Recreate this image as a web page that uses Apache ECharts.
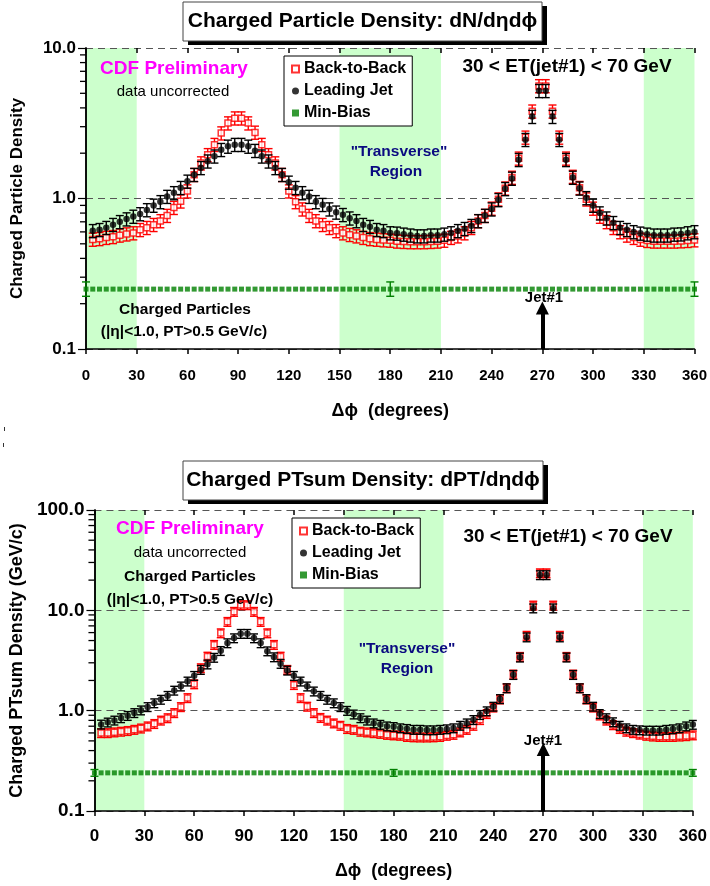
<!DOCTYPE html>
<html>
<head>
<meta charset="utf-8">
<script src="https://cdn.jsdelivr.net/npm/echarts@6/dist/echarts.min.js"></script>
<style>
html, body { margin: 0; padding: 0; background: #fff; }
#chart { width: 710px; height: 886px; }
</style>
</head>
<body>
<div id="chart"></div>
<script>
// delta phi bin centres (degrees)
const dphi = [4,8,12,16,20,24,28,32,36,40,44,48,52,56,60,64,68,72,76,80,84,88,92,96,100,104,108,112,116,120,
  124,128,132,136,140,144,148,152,156,160,164,168,172,176,180,184,188,192,196,200,204,208,212,216,220,224,228,232,236,240,
  244,248,252,256,260,264,268,272,276,280,284,288,292,296,300,304,308,312,316,320,324,328,332,336,340,344,348,352,356,360]
const mbPhi = [0,4,8,12,16,20,24,28,32,36,40,44,48,52,56,60,64,68,72,76,80,84,88,92,96,100,104,108,112,116,120,
  124,128,132,136,140,144,148,152,156,160,164,168,172,176,180,184,188,192,196,200,204,208,212,216,220,224,228,232,236,240,
  244,248,252,256,260,264,268,272,276,280,284,288,292,296,300,304,308,312,316,320,324,328,332,336,340,344,348,352,356,360]
const xTicks = [0,30,60,90,120,150,180,210,240,270,300,330,360]

// top: charged particle density
const topLead = [0.61,0.62,0.64,0.67,0.70,0.73,0.76,0.79,0.84,0.90,
  0.95,1.03,1.09,1.18,1.30,1.44,1.60,1.77,1.91,2.11,
  2.22,2.28,2.28,2.22,2.08,1.91,1.77,1.60,1.44,1.28,
  1.18,1.09,1.03,0.95,0.91,0.85,0.81,0.78,0.74,0.71,
  0.67,0.65,0.62,0.61,0.59,0.587,0.578,0.57,0.563,0.563,
  0.57,0.57,0.578,0.59,0.61,0.63,0.66,0.71,0.77,0.85,
  0.98,1.16,1.36,1.81,2.46,3.50,5.20,5.20,3.50,2.46,
  1.81,1.38,1.17,1.01,0.90,0.80,0.74,0.69,0.64,0.62,
  0.60,0.587,0.578,0.57,0.57,0.57,0.578,0.58,0.59,0.60]
const topB2B = [0.535,0.54,0.55,0.557,0.57,0.58,0.59,0.62,0.64,0.67,
  0.71,0.77,0.87,0.96,1.12,1.44,1.72,1.95,2.28,2.72,
  3.17,3.42,3.42,3.17,2.75,2.28,1.95,1.72,1.44,1.12,
  0.95,0.85,0.77,0.71,0.67,0.64,0.61,0.59,0.575,0.563,
  0.55,0.54,0.535,0.53,0.527,0.52,0.517,0.515,0.515,0.515,
  0.517,0.52,0.527,0.55,0.563,0.59,0.64,0.71,0.77,0.86,
  0.99,1.17,1.38,1.85,2.55,3.80,5.60,5.60,3.80,2.55,
  1.85,1.40,1.18,0.99,0.86,0.76,0.70,0.64,0.60,0.57,
  0.55,0.535,0.525,0.52,0.52,0.52,0.52,0.522,0.525,0.53]
const topMB = [0.25,0.25,0.25,0.25,0.25,0.25,0.25,0.25,0.25,0.25,0.25,0.25,0.25,0.25,0.25,0.25,0.25,0.25,0.25,0.25,
  0.25,0.25,0.25,0.25,0.25,0.25,0.25,0.25,0.25,0.25,0.25,0.25,0.25,0.25,0.25,0.25,0.25,0.25,0.25,0.25,
  0.25,0.25,0.25,0.25,0.25,0.25,0.25,0.25,0.25,0.25,0.25,0.25,0.25,0.25,0.25,0.25,0.25,0.25,0.25,0.25,
  0.25,0.25,0.25,0.25,0.25,0.25,0.25,0.25,0.25,0.25,0.25,0.25,0.25,0.25,0.25,0.25,0.25,0.25,0.25,0.25,
  0.25,0.25,0.25,0.25,0.25,0.25,0.25,0.25,0.25,0.25,0.25]
const topMBErr = [[0,0.224,0.279],[180,0.224,0.279],[360,0.224,0.279]]

// bottom: charged PTsum density
const botLead = [0.73,0.765,0.80,0.845,0.89,0.95,1.01,1.09,1.19,1.29,
  1.41,1.59,1.75,1.96,2.23,2.56,2.90,3.38,3.95,4.72,
  5.29,5.85,5.85,5.29,4.72,3.92,3.42,2.94,2.52,2.23,
  1.96,1.75,1.56,1.41,1.29,1.19,1.09,1.00,0.92,0.845,
  0.80,0.75,0.726,0.70,0.69,0.67,0.66,0.647,0.647,0.64,
  0.64,0.647,0.655,0.67,0.71,0.75,0.81,0.91,0.99,1.10,
  1.31,1.68,2.28,3.40,5.40,10.5,22.5,22.5,10.5,5.40,
  3.40,2.28,1.68,1.31,1.10,0.93,0.845,0.77,0.71,0.67,
  0.647,0.64,0.635,0.635,0.635,0.647,0.655,0.67,0.70,0.726]
const botB2B = [0.60,0.60,0.61,0.62,0.63,0.647,0.667,0.70,0.74,0.80,
  0.845,0.95,1.09,1.34,1.84,2.66,3.47,4.54,5.93,7.70,
  9.70,11.3,11.3,9.70,7.70,5.93,4.54,3.47,2.56,1.81,
  1.34,1.10,0.95,0.85,0.80,0.75,0.71,0.66,0.647,0.62,
  0.61,0.60,0.59,0.577,0.57,0.565,0.55,0.545,0.543,0.543,
  0.545,0.55,0.565,0.577,0.61,0.647,0.71,0.81,0.93,1.08,
  1.30,1.68,2.30,3.45,5.60,11.2,23.5,23.5,11.2,5.60,
  3.45,2.30,1.68,1.30,1.08,0.90,0.80,0.72,0.66,0.62,
  0.60,0.58,0.565,0.555,0.55,0.55,0.55,0.555,0.56,0.57]
const botMB = [0.24,0.24,0.24,0.24,0.24,0.24,0.24,0.24,0.24,0.24,0.24,0.24,0.24,0.24,0.24,0.24,0.24,0.24,0.24,0.24,
  0.24,0.24,0.24,0.24,0.24,0.24,0.24,0.24,0.24,0.24,0.24,0.24,0.24,0.24,0.24,0.24,0.24,0.24,0.24,0.24,
  0.24,0.24,0.24,0.24,0.24,0.24,0.24,0.24,0.24,0.24,0.24,0.24,0.24,0.24,0.24,0.24,0.24,0.24,0.24,0.24,
  0.24,0.24,0.24,0.24,0.24,0.24,0.24,0.24,0.24,0.24,0.24,0.24,0.24,0.24,0.24,0.24,0.24,0.24,0.24,0.24,
  0.24,0.24,0.24,0.24,0.24,0.24,0.24,0.24,0.24,0.24,0.24]
const botMBErr = [[0,0.222,0.259],[180,0.222,0.259],[360,0.222,0.259]]

// relative size of the data error bars (about +-10%)
const relErr = 0.1
// log minor tick positions
const minorTop = [0.2,0.3,0.4,0.5,0.6,0.7,0.8,0.9,2,3,4,5,6,7,8,9]
const minorBot = [0.2,0.3,0.4,0.5,0.6,0.7,0.8,0.9,2,3,4,5,6,7,8,9,20,30,40,50,60,70,80,90]
const bands = [[0,30],[150,210],[330,360]]

const FONT = '"Liberation Sans", Arial, Helvetica, sans-serif'
const RED = '#ff0000'
const GRN = '#008000'

const chart = echarts.init(document.getElementById('chart'))

function pairs(xs, ys) {
  return xs.map((x, i) => [x, ys[i]])
}
function bars(xs, ys) {
  return xs.map((x, i) => [x, ys[i] * (1 - relErr), ys[i] * (1 + relErr)])
}

function errSeries(data, color, gi, z) {
  return {
    type: 'custom',
    xAxisIndex: gi * 2,
    yAxisIndex: gi * 2,
    z: z,
    silent: true,
    data: data,
    encode: { x: 0, y: [1, 2] },
    renderItem: function(params, api) {
      const x = api.value(0)
      const lo = api.coord([x, api.value(1)])
      const hi = api.coord([x, api.value(2)])
      const w = 4
      const st = { stroke: color, lineWidth: 1.4 }
      return {
        type: 'group',
        children: [
          { type: 'line', shape: { x1: lo[0], y1: lo[1], x2: hi[0], y2: hi[1] }, style: st },
          { type: 'line', shape: { x1: lo[0] - w, y1: lo[1], x2: lo[0] + w, y2: lo[1] }, style: st },
          { type: 'line', shape: { x1: hi[0] - w, y1: hi[1], x2: hi[0] + w, y2: hi[1] }, style: st }
        ]
      }
    }
  }
}

// log minor ticks on the left axis, placed through the axis scale
function minorSeries(vals, gi) {
  return {
    type: 'custom',
    xAxisIndex: gi * 2,
    yAxisIndex: gi * 2,
    z: 7,
    silent: true,
    clip: false,
    data: vals.map(v => [0, v]),
    encode: { x: 0, y: 1 },
    renderItem: function(params, api) {
      const p = api.coord([0, api.value(1)])
      return {
        type: 'line',
        shape: { x1: p[0] - 6, y1: p[1], x2: p[0], y2: p[1] },
        style: { stroke: '#000', lineWidth: 1.3 }
      }
    }
  }
}

function xAxes(gi, fs, margin) {
  return [
    {
      type: 'value', gridIndex: gi, min: 0, max: 360, interval: 30, z: 2,
      name: 'Δϕ  (degrees)', nameLocation: 'middle', nameGap: gi ? 51 : 53,
      nameTextStyle: { fontFamily: FONT, fontWeight: 'bold', fontSize: 18, color: '#000' },
      axisLine: { show: true, lineStyle: { color: '#000', width: 1.5 } },
      axisTick: { show: true, length: 5, lineStyle: { color: '#000', width: 1.5 } },
      axisLabel: { fontFamily: FONT, fontWeight: 'bold', fontSize: fs, color: '#000', margin: margin },
      splitLine: { show: false }
    },
    {
      type: 'value', gridIndex: gi, min: 0, max: 360, interval: 30, z: 2,
      axisLine: { show: false },
      axisTick: { show: true, inside: true, length: 5, lineStyle: { color: '#000', width: 1.5 } },
      axisLabel: { show: false },
      splitLine: { show: false }
    }
  ]
}

function yAxes(gi, max, name, fs, nfs, gap) {
  return [
    {
      type: 'log', logBase: 10, gridIndex: gi, min: 0.1, max: max, z: 2,
      name: name, nameLocation: 'middle', nameGap: gap, nameRotate: 90,
      nameTextStyle: { fontFamily: FONT, fontWeight: 'bold', fontSize: nfs, color: '#000' },
      axisLine: { show: true, lineStyle: { color: '#000', width: 1.5 } },
      axisTick: { show: true, length: 8, lineStyle: { color: '#000', width: 1.2 } },
      axisLabel: {
        fontFamily: FONT, fontWeight: 'bold', fontSize: fs, color: '#000', margin: 10,
        formatter: v => Number(v).toFixed(1)
      },
      splitLine: { show: true, lineStyle: { color: '#555', width: 1, type: [7, 5] } }
    },
    {
      type: 'log', logBase: 10, gridIndex: gi, min: 0.1, max: max, position: 'right', z: 2,
      axisLine: { show: true, lineStyle: { color: '#000', width: 1.5 } },
      axisTick: { show: false },
      axisLabel: { show: false },
      splitLine: { show: false }
    }
  ]
}

function gridSeries(gi, lead, b2b, mbY, mbErr, minor, arrowTop) {
  const ax = { xAxisIndex: gi * 2, yAxisIndex: gi * 2 }
  return [
    Object.assign({
      type: 'line', data: [], silent: true, z: 1,
      markArea: {
        silent: true,
        itemStyle: { color: '#ccffcc' },
        data: bands.map(b => [{ xAxis: b[0] }, { xAxis: b[1] }])
      }
    }, ax),
    minorSeries(minor, gi),
    errSeries(mbErr, GRN, gi, 3),
    Object.assign({
      name: 'Min-Bias', type: 'scatter', data: pairs(mbPhi, mbY), z: 4,
      symbol: 'rect', symbolSize: 5, itemStyle: { color: GRN }
    }, ax),
    errSeries(bars(dphi, b2b), RED, gi, 3),
    Object.assign({
      name: 'Back-to-Back', type: 'scatter', data: pairs(dphi, b2b), z: 4,
      symbol: 'rect', symbolSize: 6,
      itemStyle: { color: '#fff', borderColor: RED, borderWidth: 1.5 }
    }, ax),
    errSeries(bars(dphi, lead), '#000', gi, 5),
    Object.assign({
      name: 'Leading Jet', type: 'scatter', data: pairs(dphi, lead), z: 6,
      symbol: 'circle', symbolSize: 6.5, itemStyle: { color: '#000' },
      markLine: {
        silent: true, symbol: ['none', 'triangle'], symbolSize: 13,
        label: { show: false },
        lineStyle: { color: '#000', width: 4, type: 'solid' },
        data: [[{ coord: [270, 0.1] }, { coord: [270, arrowTop] }]]
      }
    }, ax)
  ]
}

function legendAt(left, top) {
  return {
    left: left, top: top, orient: 'vertical', selectedMode: false,
    data: ['Back-to-Back', 'Leading Jet', 'Min-Bias'],
    backgroundColor: '#fff', borderColor: '#000', borderWidth: 1, borderRadius: 0,
    padding: [5, 6, 5, 7], itemGap: 6, itemWidth: 7, itemHeight: 7,
    textStyle: { fontFamily: FONT, fontWeight: 'bold', fontSize: 16, color: '#000' }
  }
}

function txt(x, y, s, font, color) {
  return {
    type: 'text', x: x, y: y, z: 20,
    style: { text: s, font: font, fill: color || '#000', align: 'center', verticalAlign: 'middle' }
  }
}

function titleBox(x, y, w, h, s) {
  return [
    { type: 'rect', z: 20, shape: { x: x + 5, y: y + 4, width: w, height: h }, style: { fill: '#000' } },
    { type: 'rect', z: 21, shape: { x: x, y: y, width: w, height: h }, style: { fill: '#fff', stroke: '#444', lineWidth: 1 } },
    { type: 'text', z: 22, x: x + w / 2, y: y + h / 2,
      style: { text: s, font: 'bold 21px ' + FONT, fill: '#000', align: 'center', verticalAlign: 'middle' } }
  ]
}

const B19 = 'bold 19px ' + FONT
const B155 = 'bold 15.5px ' + FONT
const R15 = '15px ' + FONT
const B15 = 'bold 15px ' + FONT
const NAVY = '#0a0a80'

chart.setOption({
  animation: false,
  backgroundColor: '#fff',
  grid: [
    { left: 86, right: 12, top: 48, height: 301 },
    { left: 93, right: 15, top: 510, height: 301 }
  ],
  xAxis: xAxes(0, 15, 19).concat(xAxes(1, 17, 17)),
  yAxis: yAxes(0, 10, 'Charged Particle Density', 17, 17, 60)
    .concat(yAxes(1, 100, 'Charged PTsum Density (GeV/c)', 19, 18, 66)),
  legend: [legendAt(284, 56), legendAt(292, 518)],
  series: gridSeries(0, topLead, topB2B, topMB, topMBErr, minorTop, 0.187)
    .concat(gridSeries(1, botLead, botB2B, botMB, botMBErr, minorBot, 0.41)),
  graphic: [].concat(
    titleBox(183, 2, 359, 39, 'Charged Particle Density: dN/dηdϕ'),
    titleBox(183, 461, 360, 39, 'Charged PTsum Density: dPT/dηdϕ'),
    [
      // small stray marks at the left margin of the original page
      { type: 'line', z: 20, shape: { x1: 4.5, y1: 427, x2: 4.5, y2: 431 }, style: { stroke: '#333', lineWidth: 1 } },
      { type: 'line', z: 20, shape: { x1: 3.5, y1: 443, x2: 3.5, y2: 447 }, style: { stroke: '#333', lineWidth: 1 } },

      txt(174, 69, 'CDF Preliminary', B19, '#ff00ff'),
      txt(173, 92, 'data uncorrected', R15),
      txt(567, 67, '30 < ET(jet#1) < 70 GeV', B19),
      txt(399, 152, '"Transverse"', B155, NAVY),
      txt(396, 172, 'Region', B155, NAVY),
      txt(185, 310, 'Charged Particles', B155),
      txt(184, 332, '(|η|<1.0, PT>0.5 GeV/c)', B155),
      txt(544, 298, 'Jet#1', B15),

      txt(190, 529, 'CDF Preliminary', B19, '#ff00ff'),
      txt(190, 553, 'data uncorrected', R15),
      txt(190, 577, 'Charged Particles', B155),
      txt(190, 600, '(|η|<1.0, PT>0.5 GeV/c)', B155),
      txt(568, 537, '30 < ET(jet#1) < 70 GeV', B19),
      txt(407, 649, '"Transverse"', B155, NAVY),
      txt(407, 669, 'Region', B155, NAVY),
      txt(543, 741, 'Jet#1', B15)
    ]
  )
})
</script>
</body>
</html>
